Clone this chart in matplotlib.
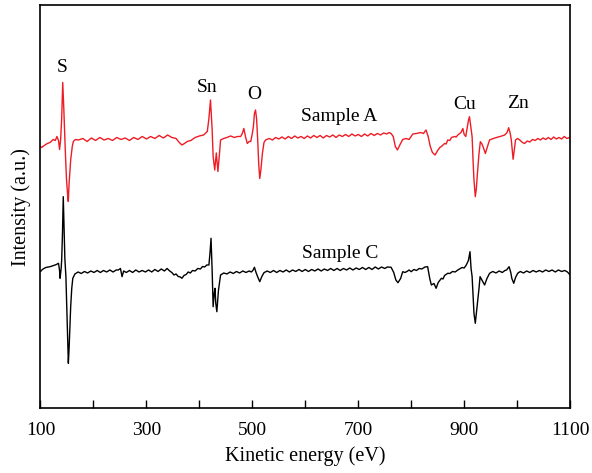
import matplotlib
matplotlib.use("Agg")
import matplotlib.pyplot as plt
import numpy as np

plt.rcParams['font.family'] = ['Liberation Serif', 'DejaVu Serif']

# Auger spectra as (kinetic energy in eV, intensity in a.u.)
sample_a = [
    (100, 262), (102, 261), (108.5, 263.5), (113, 265), (118, 266), (124, 269), (128, 268),
    (131, 272), (134, 268), (136, 259), (138, 268.5), (140, 290), (142, 326), (144, 300),
    (147, 255.5), (149, 230), (151.5, 212), (152.5, 207), (154, 225), (157, 248.5), (160, 262),
    (162, 267), (166, 269), (171.5, 268.5), (180, 270), (188, 267), (196, 270.5), (204, 268),
    (212, 271), (220, 268.5), (228, 270), (236, 268), (244, 271), (252, 269), (260, 270.5),
    (268, 268), (276, 271), (284, 269), (292, 272), (300, 269.5), (308, 272), (316, 270),
    (324, 273), (332, 270.5), (340, 273.5), (348, 271), (356, 270), (362, 266), (367, 263.5),
    (372, 265), (377, 267), (384, 268), (392, 271), (400, 272.5), (408, 273.5), (415, 277),
    (418, 290), (421, 308.5), (424, 280), (426, 252), (429, 238.5), (432, 255.5), (435, 237),
    (438, 255), (440, 268.5), (446, 270), (452, 271), (459, 272.5), (466, 271), (472, 272),
    (478, 272), (481, 275), (484, 280), (487, 272), (490.5, 265), (494, 267), (497, 267),
    (500, 275), (502, 282), (504, 295), (506, 298.5), (508, 290), (510, 270), (512, 245),
    (514, 230), (516, 238), (519, 255), (522, 266), (525, 268.5), (532, 270), (538, 268.5),
    (544, 271), (550, 269.5), (556, 271.5), (562, 269.5), (568, 272), (574, 270), (580, 272.5),
    (586, 270.5), (592, 272), (598, 270), (604, 272.5), (610, 270.5), (616, 273), (622, 271),
    (628, 273), (634, 270.5), (640, 273), (646, 271.5), (652, 273.5), (658, 271), (664, 273.5),
    (670, 272), (676, 274), (682, 272), (688, 274.5), (694, 272.5), (700, 274), (706, 272),
    (712, 274.5), (718, 272.5), (724, 275), (730, 273), (736, 275), (742, 273.5), (748, 275.5),
    (754, 274.5), (758, 276), (762, 275), (766, 272), (770, 262), (774, 258.5), (778, 263),
    (784, 269), (790, 270), (796, 269), (803, 274.5), (810, 275), (818, 276), (823, 275),
    (828, 278.5), (832, 272), (836, 262), (840, 256), (845, 253.5), (850, 258), (854, 261),
    (857, 262), (863, 265), (866, 264.5), (869, 268.5), (873, 268), (876, 271), (882, 272),
    (885, 271.5), (888, 273.5), (894, 276), (897.5, 280), (900, 274), (903, 272), (906, 282),
    (908, 288), (910, 291.8), (913, 280), (915, 271.8), (917, 245), (918.5, 228.5), (921, 211.8),
    (923, 220), (925, 235), (928, 255), (930.5, 266.8), (933, 265), (935.6, 261.8), (940, 255),
    (944, 262), (948, 268.5), (955, 270), (961, 271), (968, 272), (976.5, 273.5), (981, 276),
    (984, 280.8), (987, 275), (989, 268.5), (992.4, 249.2), (995, 260), (997, 268.5),
    (1001, 270), (1005, 268.5), (1010, 266), (1014, 265), (1019, 267.5), (1024, 266.5),
    (1029, 269), (1034, 268), (1039, 270), (1044, 268.5), (1049, 270.5), (1054, 269),
    (1059, 271), (1064, 269), (1069, 271.5), (1074, 269.5), (1079, 271), (1084, 269.5),
    (1089, 272), (1094, 270), (1100, 271.2)]

sample_c = [
    (100, 137), (104, 139.2), (110, 141), (118, 141.8), (125, 143), (130, 144), (134, 145.2),
    (136, 138), (137, 130.2), (139, 140), (140, 148.5), (141.5, 175), (143, 211.8), (144.5, 180),
    (146, 150), (148, 131.8), (150, 95), (152.6, 45.2), (154, 60), (157, 101.8), (159, 120),
    (161, 130.2), (165, 134.5), (171, 136.5), (177, 135), (183, 137), (189, 135.5), (195, 137.5),
    (201, 136), (207, 138), (213, 136), (219, 138), (225, 136.5), (231, 138.5), (237, 136.5),
    (243, 138.5), (247, 138.5), (251, 140), (254, 131.8), (257, 137.5), (262, 136), (268, 138),
    (274, 136), (280, 138.5), (286, 136.5), (292, 138), (298, 136.5), (304, 138.5), (310, 136.5),
    (316, 139), (322, 137), (328, 139.5), (334, 137.5), (339, 140), (344, 137.5), (348, 136),
    (352, 133.5), (356, 134.5), (360, 132), (364, 131.5), (367, 130.2), (371, 133), (375, 134),
    (379, 136.5), (383, 135.5), (387, 138), (392, 137.5), (397, 140), (402, 139.5), (406, 142),
    (410, 141.5), (414, 143.5), (418, 143.5), (420, 155), (422, 170.2), (424, 140), (426, 101.8),
    (428, 115), (429.5, 120.2), (431, 105), (433, 96.8), (436, 118), (440, 133.5), (446, 135.5),
    (452, 134.5), (458, 136.5), (464, 135), (470, 137), (476, 135.5), (482, 137.5), (488, 136),
    (494, 137.5), (498, 136.5), (501, 138), (504, 141.2), (507, 136), (510, 131.8), (514, 126.8),
    (518, 132), (522, 135.8), (528, 137.5), (534, 136), (540, 138), (546, 136), (552, 138),
    (558, 136.5), (564, 138.5), (570, 136.5), (576, 138.5), (582, 137), (588, 139), (594, 137),
    (600, 139), (606, 137), (612, 139), (618, 137.5), (624, 139.5), (630, 137.5), (636, 139.5),
    (642, 138), (648, 140), (654, 138), (660, 140), (666, 138), (672, 140), (678, 138.5),
    (684, 140.5), (690, 138.5), (696, 140.5), (702, 139), (708, 141), (714, 139), (720, 141),
    (726, 139), (732, 141.5), (738, 139.5), (744, 141.5), (750, 140), (755, 141.5), (762, 141.2),
    (767, 136), (771, 128.5), (775, 125.8), (780, 130), (784, 136.8), (788, 136), (792, 137),
    (796, 138.5), (800, 136.8), (805, 139), (810, 138), (815, 140), (820, 139.5), (826, 141.5),
    (831, 141.8), (835, 130), (838, 123.5), (843, 125), (847, 120.2), (851, 126), (857, 130.2),
    (860, 129.5), (863, 133), (869, 135.2), (873, 135), (878, 137), (883, 136.5), (888, 138.5),
    (896, 141), (900, 140.5), (904, 143.5), (908, 148), (911, 156.8), (913, 140), (915, 131.8),
    (917, 110), (918.5, 95.2), (921, 85.2), (923, 95), (925, 105.2), (928, 120), (930, 131.8),
    (934, 128), (938.6, 123.5), (943, 130), (948, 135.2), (954, 137), (960, 135.5), (966, 137.5),
    (972, 136), (977, 138), (980, 138.5), (984.8, 141.8), (988, 136), (990, 130), (993.6, 125.2),
    (997, 131), (1001, 135.2), (1006, 137), (1012, 135.5), (1018, 137.5), (1024, 136),
    (1030, 138), (1036, 136.5), (1042, 138), (1048, 136.5), (1054, 138.5), (1060, 137),
    (1066, 138.5), (1072, 136.5), (1078, 138.5), (1084, 137), (1090, 138), (1095, 136.5),
    (1100, 133.5)]

# peak labels: (text, energy, intensity)
peak_labels = [("S", 140.7, 340.5), ("Sn", 415, 320.5), ("O", 504, 313.5),
               ("Cu", 901, 303.5), ("Zn", 1002, 305)]
sample_labels = [("Sample A", 664, 291.5), ("Sample C", 666, 154.5)]

fig = plt.figure(figsize=(5.92, 4.73), dpi=100)
ax = fig.add_axes([0.0684, 0.1364, 0.8946, 0.852])

ea, ia = zip(*sample_a)
ec, ic = zip(*sample_c)
ax.plot(ea, ia, color='#ee1c24', lw=1.0)
ax.plot(ec, ic, color='black', lw=1.0)

for txt, x, y in peak_labels + sample_labels:
    ax.text(x, y, txt, ha='center', va='center', fontsize=14)

ax.set_xlim(100, 1100)
ax.set_ylim(0, 403)
xt = np.arange(100, 1101, 100)
ax.set_xticks(xt)
ax.set_xticklabels([str(v) if (v // 100) % 2 == 1 else '' for v in xt], fontsize=14)
ax.tick_params(axis='x', direction='in', length=6, width=1.0, pad=10)
ax.set_yticks([])
for s in ax.spines.values():
    s.set_linewidth(1.2)

ax.set_xlabel('Kinetic energy (eV)', fontsize=14.5, labelpad=5)
ax.set_ylabel('Intensity (a.u.)', fontsize=14.5, labelpad=7)

fig.savefig('out.png', dpi=100)
